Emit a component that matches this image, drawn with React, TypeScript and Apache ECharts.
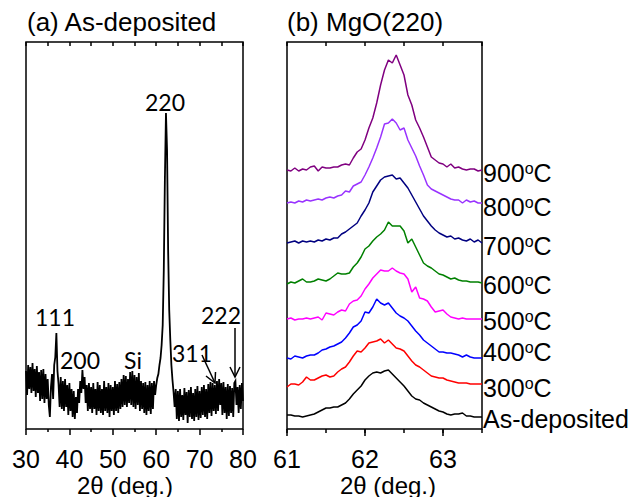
import React, { useEffect, useRef } from "react";
import * as echarts from "echarts";

// ---------- Panel (a): full XRD scan, as-deposited ----------
const X_A_START = 30;
const X_A_STEP = 0.25;
// intensity (a.u.) at 30.00, 30.25, ... 80.00
const XRD_AS_DEPOSITED = [
  58, 34, 64, 40, 62, 36, 66, 38, 60, 32, 63, 36, 57, 28, 59, 30,
  60, 26, 55, 30, 50, 24, 12, 42, 55, 30, 64, 72, 96, 58, 45, 22,
  52, 20, 48, 18, 50, 22, 44, 14, 46, 18, 40, 12, 38, 10, 32, 16,
  40, 26, 48, 36, 59, 40, 52, 26, 44, 18, 46, 20, 42, 16, 46, 20,
  40, 14, 47, 18, 44, 16, 40, 14, 48, 18, 42, 16, 46, 12, 44, 18,
  42, 14, 48, 18, 45, 16, 47, 20, 50, 22, 54, 24, 53, 22, 50, 26,
  57, 24, 58, 22, 54, 20, 52, 24, 56, 18, 48, 20, 46, 16, 47, 14,
  44, 18, 48, 15, 46, 20, 48, 34, 44, 51, 55, 64, 71, 84, 104, 159,
  249, 316, 279, 179, 119, 89, 64, 49, 37, 22, 40, 10, 38, 8, 40, 12,
  34, 9, 41, 14, 37, 6, 39, 12, 42, 10, 36, 8, 40, 12, 43, 9,
  38, 11, 42, 14, 44, 12, 40, 10, 45, 16, 47, 13, 46, 18, 44, 15,
  48, 18, 50, 24, 46, 14, 47, 16, 42, 10, 45, 13, 43, 16, 41, 12,
  46, 48, 24, 42, 16, 44, 20, 46, 28,
];
const X_A = XRD_AS_DEPOSITED.map((_, i) => X_A_START + i * X_A_STEP);

// ---------- Panel (b): MgO(220) peak vs annealing temperature ----------
const X_B_START = 61;
const X_B_STEP = 0.05;
const SAMPLES = ["As-deposited", "300", "400", "500", "600", "700", "800", "900"];
const COLORS = ["#000000", "#ff0000", "#0000ff", "#ff00ff", "#008000", "#000080", "#9933ff", "#800080"];
const OFFSETS = [14, 43, 71, 110, 145, 186, 226, 259];
const H_AS = [0,0,-1,-1,-2,-1,0,1,3,5,7,7,8,8,10,12,16,21,25,29,35,39,42,43,42,44,45,41,37,33,29,24,19,16,15,12,10,8,6,4,3,1,0,1,1,2,-1,-1,-2,-2,-2];
const H_300 = [-1,2,2,1,4,9,6,6,8,10,11,9,10,14,17,19,24,30,35,34,38,43,44,45,47,43,46,42,38,37,35,30,25,21,19,16,13,10,9,8,8,6,5,4,3,3,3,2,2,2,2];
const H_400 = [0,-1,2,1,0,2,3,3,5,8,9,11,12,14,16,20,25,31,33,37,46,45,51,59,55,53,55,50,45,42,40,37,32,27,23,18,15,12,9,6,6,5,5,4,3,1,3,1,0,0,0];
const H_500 = [0,1,-1,0,0,1,0,1,2,-1,6,5,4,7,9,8,15,18,19,23,30,35,41,45,49,48,48,51,48,46,45,40,27,32,21,20,18,12,7,8,9,5,2,1,0,1,0,0,0,0,0];
const H_600 = [0,2,1,3,5,2,2,3,5,4,3,5,8,11,10,10,11,17,21,27,35,38,43,47,50,54,62,58,58,58,53,41,45,37,29,21,18,16,13,10,9,7,5,6,4,3,3,2,2,2,1];
const H_700 = [0,1,2,0,2,1,2,1,3,2,4,3,5,5,9,11,14,17,20,27,33,40,51,57,63,66,67,68,64,65,60,55,48,41,34,27,22,17,13,10,8,6,7,4,5,3,2,4,1,3,0];
const H_800 = [0,1,0,2,1,3,2,3,4,3,5,6,5,7,8,12,11,17,19,21,28,36,45,55,66,79,80,84,80,73,75,63,55,47,37,28,18,14,12,10,8,6,4,3,3,0,3,1,2,0,0];
const H_900 = [0,-1,2,-1,1,0,3,4,-1,3,2,2,3,3,5,6,5,12,18,21,30,42,52,67,85,100,110,107,115,105,95,75,65,50,42,33,23,13,10,7,6,3,6,2,3,1,0,1,1,-1,0];
const CURVES = [H_AS, H_300, H_400, H_500, H_600, H_700, H_800, H_900];
const X_B = H_AS.map((_, i) => +(X_B_START + i * X_B_STEP).toFixed(2));
const LABEL_DY = [2, 4, -6, 2, 2, 3, 4, 3];

const FONT = "'Liberation Sans', Arial, sans-serif";
const ANN_FONT = "Lato, 'Liberation Sans', sans-serif";

export default function App() {
  const ref = useRef<HTMLDivElement>(null);
  useEffect(() => {
    if (!ref.current) return;
    const chart = echarts.init(ref.current, undefined, { renderer: "svg" });

    const axisLabel = { color: "#000", fontSize: 25, lineHeight: 24, fontFamily: FONT, margin: 18 };
    const tickStyle = { color: "#000", width: 1.5 };

    const series: any[] = [
      {
        type: "line",
        xAxisIndex: 0,
        yAxisIndex: 0,
        data: X_A.map((x, i) => [x, XRD_AS_DEPOSITED[i]]),
        showSymbol: false,
        symbol: "none",
        lineStyle: { color: "#000", width: 1.8, join: "miter" },
      },
    ];
    CURVES.forEach((h, k) => {
      const name = SAMPLES[k];
      series.push({
        type: "line",
        name,
        xAxisIndex: 2,
        yAxisIndex: 1,
        data: X_B.map((x, i) => [x, OFFSETS[k] + h[i]]),
        showSymbol: false,
        symbol: "none",
        lineStyle: { color: COLORS[k], width: 1.5 },
        endLabel: {
          show: true,
          distance: 0,
          offset: [1, LABEL_DY[k]],
          formatter: () => (k === 0 ? "{t|As-deposited}" : `{t|${name}}{s|o}{t|C}`),
          rich: {
            t: { fontSize: 25, fontFamily: FONT, color: "#000", lineHeight: 26 },
            s: { fontSize: 16, fontFamily: FONT, color: "#000", verticalAlign: "top", lineHeight: 26 },
          },
        },
      });
    });

    const option: any = {
      animation: false,
      backgroundColor: "#fff",
      grid: [
        { left: 26, top: 42, width: 217, height: 387, show: true, borderColor: "#000", borderWidth: 1.5, backgroundColor: "transparent" },
        { left: 287, top: 42, width: 195, height: 387, show: true, borderColor: "#000", borderWidth: 1.5, backgroundColor: "transparent" },
        { left: 287, top: 42, width: 195, height: 387, show: false },
      ],
      xAxis: [
        {
          type: "value", gridIndex: 0, position: "bottom", min: 30, max: 80, interval: 10,
          axisLine: { show: false }, splitLine: { show: false },
          axisTick: { show: true, length: 6, lineStyle: tickStyle },
          minorTick: { show: true, splitNumber: 2, length: 3, lineStyle: tickStyle },
          axisLabel,
        },
        {
          type: "value", gridIndex: 0, position: "top", min: 30, max: 80, interval: 5,
          axisLine: { show: false }, splitLine: { show: false },
          axisTick: { show: true, inside: true, length: 4, lineStyle: tickStyle },
          axisLabel: { show: false },
        },
        {
          type: "value", gridIndex: 1, position: "bottom", min: 61, max: 63.5, interval: 1,
          axisLine: { show: false }, splitLine: { show: false },
          axisTick: { show: true, length: 7, lineStyle: tickStyle },
          axisLabel: { ...axisLabel, showMaxLabel: false, formatter: (v: number) => (Number.isInteger(v) ? String(v) : "") },
        },
        {
          type: "value", gridIndex: 1, position: "top", min: 61, max: 63.5, interval: 0.5,
          axisLine: { show: false }, splitLine: { show: false },
          axisTick: { show: true, inside: true, length: 4, lineStyle: tickStyle },
          axisLabel: { show: false },
        },
        {
          type: "value", gridIndex: 2, position: "bottom", min: 61, max: 63.5, interval: 0.5,
          axisLine: { show: false }, splitLine: { show: false },
          axisTick: { show: true, length: 4, lineStyle: tickStyle },
          axisLabel: { show: false },
        },
      ],
      yAxis: [
        { type: "value", gridIndex: 0, min: 0, max: 387, show: false },
        { type: "value", gridIndex: 1, min: 0, max: 387, show: false },
        { type: "value", gridIndex: 2, min: 0, max: 387, show: false },
      ],
      series,
      graphic: [
        { type: "text", left: 27, top: 9, style: { text: "(a) As-deposited", fontSize: 26, fontFamily: FONT, fill: "#000" } },
        { type: "text", left: 287, top: 9, style: { text: "(b) MgO(220)", fontSize: 26, fontFamily: FONT, fill: "#000" } },
        { type: "text", x: 125, y: 485, style: { text: "2θ (deg.)", fontSize: 24, lineHeight: 23, fontFamily: FONT, fill: "#000", align: "center", verticalAlign: "middle" } },
        { type: "text", x: 388, y: 485, style: { text: "2θ (deg.)", fontSize: 24, lineHeight: 23, fontFamily: FONT, fill: "#000", align: "center", verticalAlign: "middle" } },
        { type: "text", x: 165, y: 102, style: { text: "220", fontSize: 23, fontFamily: ANN_FONT, fill: "#000", align: "center", verticalAlign: "middle" } },
        { type: "text", x: 55, y: 317, style: { text: "111", fontSize: 23, fontFamily: ANN_FONT, fill: "#000", align: "center", verticalAlign: "middle" } },
        { type: "text", x: 80, y: 360, style: { text: "200", fontSize: 23, fontFamily: ANN_FONT, fill: "#000", align: "center", verticalAlign: "middle" } },
        { type: "text", x: 133, y: 360, style: { text: "Si", fontSize: 23, fontFamily: ANN_FONT, fill: "#000", align: "center", verticalAlign: "middle" } },
        { type: "text", x: 192, y: 353, style: { text: "311", fontSize: 23, fontFamily: ANN_FONT, fill: "#000", align: "center", verticalAlign: "middle" } },
        { type: "text", x: 221, y: 315, style: { text: "222", fontSize: 23, fontFamily: ANN_FONT, fill: "#000", align: "center", verticalAlign: "middle" } },
        { type: "line", shape: { x1: 202, y1: 355, x2: 215, y2: 383 }, style: { stroke: "#000", lineWidth: 1.5 } },
        { type: "polyline", shape: { points: [[206, 376], [215, 383], [215.5, 372]] }, style: { stroke: "#000", lineWidth: 1.5, fill: null } },
        { type: "line", shape: { x1: 235, y1: 328, x2: 235, y2: 377 }, style: { stroke: "#000", lineWidth: 1.5 } },
        { type: "polyline", shape: { points: [[230, 367], [235, 377], [240, 367]] }, style: { stroke: "#000", lineWidth: 1.5, fill: null } },
      ],
    };
    chart.setOption(option);
    return () => chart.dispose();
  }, []);
  return <div ref={ref} style={{ width: 635, height: 497, position: "absolute", left: 0, top: 0 }} />;
}
